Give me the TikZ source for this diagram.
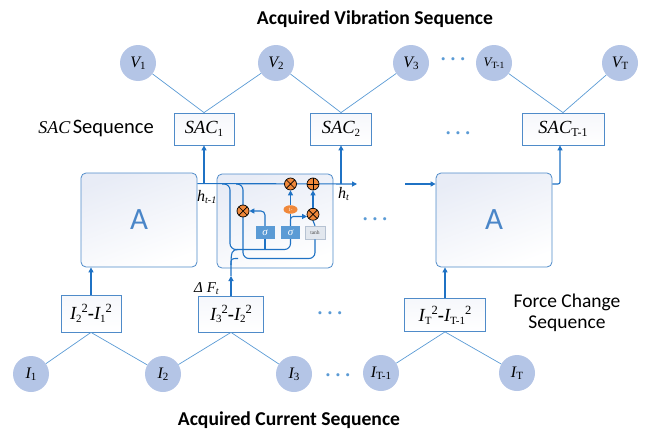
\documentclass[tikz,border=0pt]{standalone}
\usepackage{fontspec}
\setmainfont{Liberation Serif}
\newfontfamily\calib{Carlito}
\usetikzlibrary{arrows.meta,calc,shapes.geometric}
\definecolor{cfill}{HTML}{B4C5E6}
\definecolor{lnblue}{HTML}{5B9BD5}
\definecolor{arblue}{HTML}{1F72C4}
\definecolor{bxblue}{HTML}{4F8BC9}
\definecolor{atxt}{HTML}{4A86C8}
\definecolor{corange}{HTML}{F0883A}
\definecolor{afill}{HTML}{E8ECF6}
\definecolor{sigfill}{HTML}{5B9BD5}
\definecolor{tanhfill}{HTML}{E2E7EE}
\definecolor{tanhdraw}{HTML}{B6C2D2}
\newcommand\mysub[1]{\raisebox{-0.3ex}{\fontsize{11}{11}\selectfont #1}}
\newcommand\mysup[1]{\raisebox{0.85ex}{\fontsize{12.5}{12.5}\selectfont #1}}
\newcommand\threedots{\textbf{·\hspace{3.5pt}·\hspace{3.5pt}·}}
\tikzset{
  circ/.style={circle, fill=cfill, minimum size=36pt, inner sep=0pt, font=\fontsize{16}{16}\selectfont},
  sbox/.style={draw=bxblue, line width=0.8pt, top color=afill!40, bottom color=white, rectangle, inner sep=0pt, font=\fontsize{18.5}{18.5}\selectfont},
  abox/.style={draw=bxblue, line width=0.8pt, rounded corners=5pt, top color=afill, bottom color=white, shading angle=20, minimum width=116pt, minimum height=94pt, inner sep=0pt},
  thinln/.style={lnblue, line width=0.7pt},
  arr/.style={arblue, line width=1.1pt, -{Triangle[length=5pt,width=5pt]}},
  cl/.style={arblue, line width=1.1pt},
  dotsn/.style={text=lnblue, font=\fontsize{19}{19}\selectfont, inner sep=0pt},
  title/.style={font=\calib\bfseries\fontsize{19.6}{19.6}\selectfont, inner sep=0pt},
  lab/.style={font=\calib\fontsize{19.5}{19.5}\selectfont, inner sep=0pt},
  mul/.style={circle, draw=black, line width=0.7pt, fill=corange, minimum size=12pt, inner sep=0pt,
    path picture={\draw[black,line width=0.7pt] (path picture bounding box.south west) -- (path picture bounding box.north east) (path picture bounding box.north west) -- (path picture bounding box.south east);}},
  plusn/.style={circle, draw=black, line width=0.7pt, fill=corange, minimum size=12pt, inner sep=0pt,
    path picture={\draw[black,line width=0.7pt] (path picture bounding box.south) -- (path picture bounding box.north) (path picture bounding box.west) -- (path picture bounding box.east);}},
  gate/.style={rectangle, fill=sigfill, minimum width=19pt, minimum height=13pt, inner sep=0pt, text=white, font=\itshape\fontsize{11}{11}\selectfont},
}
\begin{document}
\begin{tikzpicture}[x=1pt,y=-1pt]
\useasboundingbox (0,0) rectangle (645,431);
% titles
\node[title, anchor=base] (t1) at (375,24) {Acquired Vibration Sequence};
\node[title, anchor=base] (t2) at (289,425) {Acquired Current Sequence};
% V nodes
\node[circ] (V1) at (138,63) {{\itshape V}\mysub{1}};
\node[circ] (V2) at (276,63) {{\itshape V}\mysub{2}};
\node[circ] (V3) at (411,63) {{\itshape V}\mysub{3}};
\node[circ, font=\fontsize{13}{13}\selectfont] (V4) at (494,63) {{\itshape V}\raisebox{-0.3ex}{\fontsize{9.5}{9.5}\selectfont T-1}};
\node[circ] (V5) at (620,63) {{\itshape V}\mysub{T}};
\node[dotsn] (d1) at (453,62) {\threedots};
% SAC boxes
\node[sbox, minimum width=60pt, minimum height=32pt] (S1) at (204,129) {{\itshape SAC}\mysub{1}};
\node[sbox, minimum width=61pt, minimum height=32pt] (S2) at (341,129) {{\itshape SAC}\mysub{2}};
\node[sbox, minimum width=82pt, minimum height=32pt] (S3) at (563,129) {{\itshape SAC}\raisebox{-0.3ex}{\fontsize{12}{12}\selectfont T-1}};
\node[dotsn] (d2) at (458,136) {\threedots};
\node[anchor=base east, inner sep=0pt] (sacl) at (154,133) {{\fontsize{18}{18}\selectfont\itshape SAC} {\calib\fontsize{20.5}{20.5}\selectfont Sequence}};
% A boxes and cell
\node[abox, text=atxt, font=\calib\fontsize{31}{31}\selectfont] (A1) at (139,220) {A};
\node[abox] (C) at (275,221) {};
\node[abox, text=atxt, font=\calib\fontsize{31}{31}\selectfont] (A3) at (494,220) {A};
\node[dotsn] (d3) at (375,222) {\threedots};
% difference boxes
\node[sbox, minimum width=60pt, minimum height=37pt] (D1) at (91,313.5) {{\itshape I}\mysub{2}\mysup{2}\textbf{-}{\itshape I}\mysub{1}\mysup{2}};
\node[sbox, minimum width=65pt, minimum height=36pt] (D2) at (231,314) {{\itshape I}\mysub{3}\mysup{2}\textbf{-}{\itshape I}\mysub{2}\mysup{2}};
\node[sbox, minimum width=81pt, minimum height=33pt] (D3) at (445,315) {{\itshape I}\mysub{T}\mysup{2}\textbf{-}{\itshape I}\mysub{T-1}\mysup{2}};
\node[dotsn] (d4) at (330,316) {\threedots};
% I nodes
\node[circ] (I1) at (31,374) {{\itshape I}\mysub{1}};
\node[circ] (I2) at (163,374) {{\itshape I}\mysub{2}};
\node[circ] (I3) at (294,374) {{\itshape I}\mysub{3}};
\node[circ] (I4) at (381,373) {{\itshape I}\mysub{T-1}};
\node[circ] (I5) at (517,373) {{\itshape I}\mysub{T}};
\node[dotsn] (d5) at (338,378) {\threedots};
% labels
\node[lab, anchor=base] (fc1) at (567,307) {Force Change};
\node[lab, anchor=base] (fc2) at (567,328.5) {Sequence};
\node[anchor=base west, inner sep=0pt, font=\fontsize{16}{16}\selectfont] (hl) at (197,201) {\itshape h\raisebox{-0.3ex}{\fontsize{10}{10}\selectfont t-1}};
\node[anchor=base west, inner sep=0pt, font=\fontsize{16}{16}\selectfont] (hr) at (338,198) {\itshape h\raisebox{-0.3ex}{\fontsize{10}{10}\selectfont t}};
\node[anchor=base west, inner sep=0pt, font=\fontsize{15}{15}\selectfont] (df) at (194,292) {\itshape Δ F\raisebox{-0.3ex}{\fontsize{10}{10}\selectfont t}};
% gates
\node[gate] (g1) at (265,232.5) {σ};
\node[gate] (g2) at (290.5,232.5) {σ};
\node[rectangle, fill=tanhfill, draw=tanhdraw, line width=0.6pt, minimum width=20pt, minimum height=13pt, inner sep=0pt, font=\fontsize{5.5}{5.5}\selectfont, text=black!70] (g3) at (315,232.5) {tanh};
% thin connectors
\draw[thinln] (V1) -- (S1.north);
\draw[thinln] (V2) -- (S1.north);
\draw[thinln] (V2) -- (S2.north);
\draw[thinln] (V3) -- (S2.north);
\draw[thinln] (V4) -- (S3.north);
\draw[thinln] (V5) -- (S3.north);
\draw[thinln] (I1) -- (D1.south);
\draw[thinln] (I2) -- (D1.south);
\draw[thinln] (I2) -- (D2.south);
\draw[thinln] (I3) -- (D2.south);
\draw[thinln] (I4) -- (D3.south);
\draw[thinln] (I5) -- (D3.south);
% coordinates
\coordinate (hin) at ($(A1.north east)+(0,11)$);
\coordinate (hend) at (357,184);
\coordinate (hin3) at (405,184);
\coordinate (up3) at (560,184);
\coordinate (lowA) at (230,249.5);
\coordinate (lowB) at (243,258.5);
\coordinate (brA) at (222,184);
\coordinate (brB) at (236,184);
\coordinate (xtip) at (231,276);
\coordinate (xin) at (231,265);
\coordinate (jA) at (238,249.5);
\coordinate (jB) at (238,258.5);
% main arrows
\draw[arr] (hin) -- (hend);
\draw[arr] (hin -| S1.south) -- (S1.south);
\draw[arr] (hin -| S2.south) -- (S2.south);
\draw[arr] (hin3) -- (hin3 -| A3.west);
\draw[arr, rounded corners=2pt] (hin3 -| A3.east) -- (up3) -- (up3 |- S3.south);
\draw[arr] (D1.north) -- (D1.north |- A1.south);
\draw[arr] (D3.north) -- (D3.north |- A3.south);
\draw[arr] (D2.north) -- (xtip);
% cell inner lines
\draw[cl, rounded corners=6pt] (brA) -| (lowA) -| (g2.south);
\draw[cl] (g1.south) -- (g1.south |- lowA);
\draw[cl, rounded corners=6pt] (brB) -| (lowB) -| (g3.south);
\draw[cl] (xtip) -- (xin) .. controls (231,258.5) .. (jB);
\draw[cl] (xin) .. controls (231,252) and (232,249.5) .. (jA);
% operators
\node[mul] (xL) at (243,211) {};
\node[mul] (xT) at (290.5,184) {};
\node[mul] (xR) at (313,214.3) {};
\node[plusn] (pl) at (313,184) {};
\node[ellipse, fill=corange, minimum width=14pt, minimum height=8.5pt, inner sep=0pt, text=white, font=\fontsize{5}{5}\selectfont] (om) at (290.5,209.5) {1-};
\draw[arr, rounded corners=4pt] (g1.north) |- (xL.east);
\draw[cl] (g2.north) -- (om.south);
\draw[arr, rounded corners=3pt] (g2.north) |- (xR.200);
\draw[arr] (om.north) -- (xT.south);
\draw[cl] (g3.north) -- (xR.south);
\draw[arr] (xR.north) -- (pl.south);
\end{tikzpicture}
\end{document}
